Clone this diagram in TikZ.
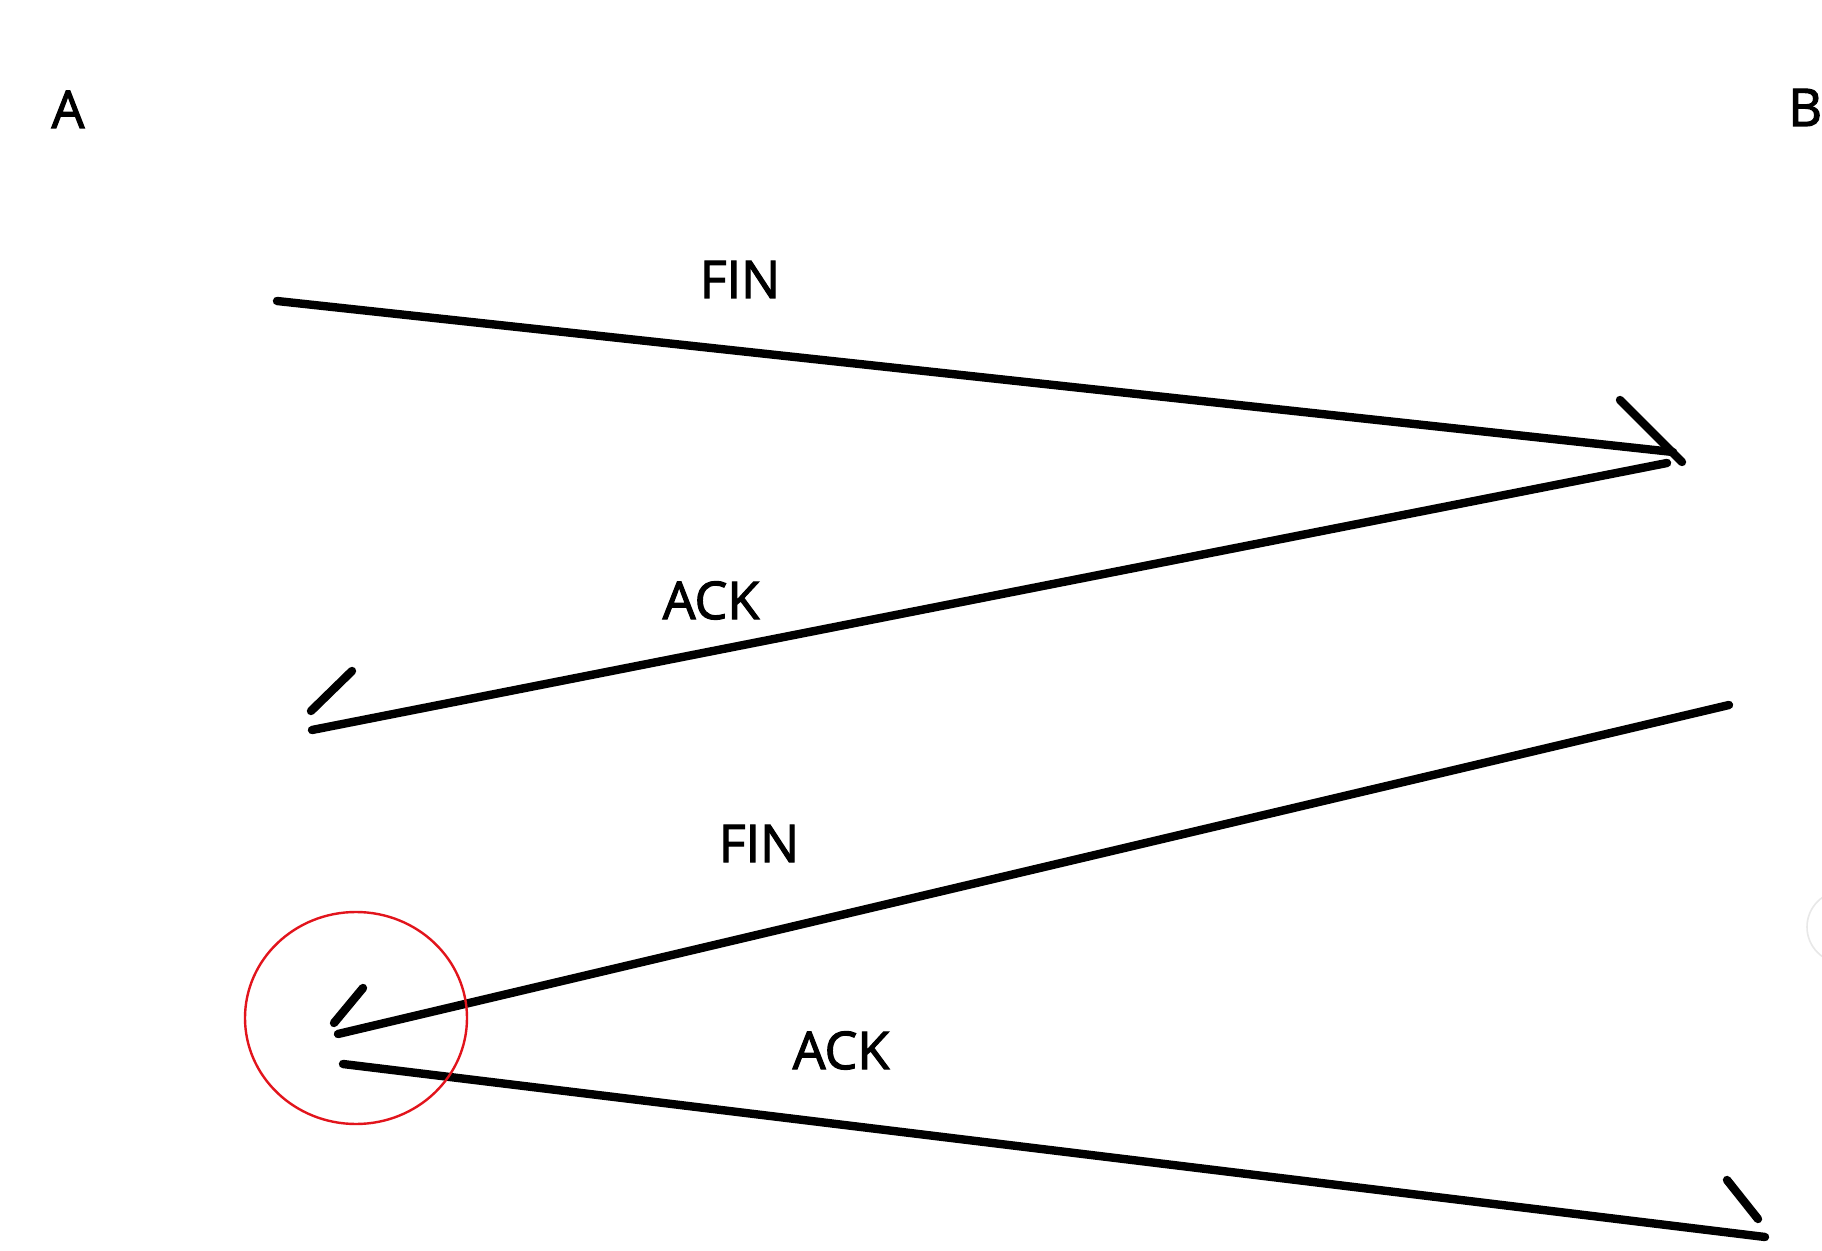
\documentclass[tikz,border=0pt]{standalone}
\usepackage{fontspec}
\setmainfont{Open Sans}[FakeBold=2.2]
\begin{document}
\begin{tikzpicture}[x=0.5pt,y=-0.5pt,
  msg/.style={line width=4.2pt,line cap=round,black},
  barb/.style={line width=4.2pt,line cap=round,black},
  lbl/.style={anchor=base,inner sep=0pt,font=\fontsize{26}{30}\selectfont,text=black}]
\useasboundingbox (0,0) rectangle (1822,1251);
\fill[white] (0,0) rectangle (1822,1251);
% host labels
\node[lbl] (A) at (68,128) {A};
\node[lbl,anchor=base west] (B) at (1788,126) {B};
% endpoints
\coordinate (f1s) at (277,301);
\coordinate (f1e) at (1673,452);
\coordinate (f1b) at (1620,400);
\coordinate (f1t) at (1682,462);
\coordinate (a1s) at (1667,463);
\coordinate (a1e) at (312,730);
\coordinate (a1b) at (352,671);
\coordinate (a1t) at (311,711);
\coordinate (f2s) at (1729,705);
\coordinate (f2e) at (338,1034);
\coordinate (f2b) at (363,988);
\coordinate (f2t) at (334,1023);
\coordinate (a2s) at (343,1064);
\coordinate (a2e) at (1765,1237);
\coordinate (a2b) at (1727,1180);
\coordinate (a2t) at (1758,1219);
% messages
\draw[msg] (f1s) -- (f1e);
\draw[barb] (f1b) -- (f1t);
\draw[msg] (a1s) -- (a1e);
\draw[barb] (a1b) -- (a1t);
\draw[msg] (f2s) -- (f2e);
\draw[barb] (f2b) -- (f2t);
\draw[msg] (a2s) -- (a2e);
\draw[barb] (a2b) -- (a2t);
% labels
\node[lbl] (fin1) at (740,298) {FIN};
\node[lbl] (ack1) at (711,619) {ACK};
\node[lbl] (fin2) at (759,862) {FIN};
\node[lbl] (ack2) at (841,1069) {ACK};
% red highlight
\draw[line width=1.2pt,color={rgb,255:red,226;green,20;blue,28}] (356,1018) ellipse [x radius=111,y radius=106];
% faint widget at right edge
\draw[line width=0.8pt,gray!18,fill=white] (1843,927) circle [radius=36];
\end{tikzpicture}
\end{document}
